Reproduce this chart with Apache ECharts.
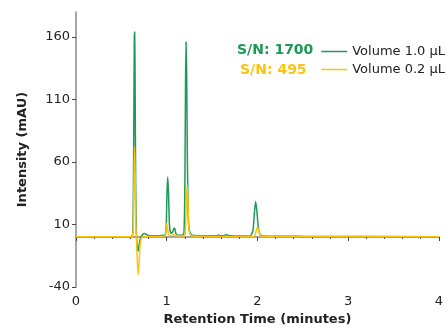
<!DOCTYPE html>
<html>
<head>
<meta charset="utf-8">
<script src="https://cdn.jsdelivr.net/npm/echarts@6/dist/echarts.min.js"></script>
<style>
  html, body { margin: 0; padding: 0; background: #fff; }
  #chart { width: 446px; height: 331px; }
</style>
</head>
<body>
<div id="chart"></div>
<script>
  // retention time (min), intensity (mAU)
  const vol10 = [
    [0, 0.3], [0.6, 0.3], [0.615, 0.5], [0.625, 3], [0.632, 30], [0.638, 100],
    [0.643, 160], [0.647, 164], [0.652, 120], [0.658, 40], [0.665, 5],
    [0.675, -8], [0.686, -11], [0.697, -6], [0.71, -1], [0.725, 1], [0.74, 2.5],
    [0.755, 2.8], [0.775, 2], [0.8, 1.2], [0.85, 1], [0.95, 1.2], [0.985, 2],
    [0.995, 10], [1.003, 35], [1.011, 48], [1.02, 35], [1.03, 10], [1.045, 3],
    [1.065, 4], [1.08, 7], [1.09, 6.5], [1.1, 3], [1.12, 1.5], [1.17, 1.5],
    [1.19, 3], [1.2, 40], [1.207, 120], [1.213, 156], [1.22, 130], [1.228, 60],
    [1.238, 15], [1.25, 5], [1.27, 2], [1.3, 1.2], [1.45, 1], [1.55, 1],
    [1.57, 1.6], [1.59, 1], [1.64, 1.2], [1.66, 2], [1.68, 1.2], [1.75, 0.8],
    [1.92, 0.8], [1.95, 5], [1.965, 18], [1.98, 28.5], [1.995, 20], [2.01, 7],
    [2.03, 2], [2.06, 0.8], [2.5, 0.5], [4, 0.3]
  ];
  const vol02 = [
    [0, 0.3], [0.6, 0.3], [0.62, 0.5], [0.63, 5], [0.638, 40], [0.645, 72],
    [0.652, 50], [0.658, 15], [0.665, 0], [0.675, -18], [0.685, -30],
    [0.695, -22], [0.705, -8], [0.72, -1], [0.74, 0.5], [0.8, 0.5], [0.95, 0.5],
    [0.985, 1.5], [0.995, 6], [1.0, 11], [1.008, 8], [1.02, 2], [1.05, 1],
    [1.085, 2], [1.1, 1.5], [1.12, 0.8], [1.19, 0.8], [1.205, 4], [1.215, 25],
    [1.225, 41.5], [1.233, 30], [1.242, 10], [1.255, 2.5], [1.28, 0.8],
    [1.6, 0.5], [1.96, 0.5], [1.98, 3], [2.0, 8], [2.02, 3.5], [2.04, 0.8],
    [2.1, 0.4], [4, 0.3]
  ];
  const yTicks = [-40, 10, 60, 110, 160];
  const seriesNames = ['Volume 1.0 µL', 'Volume 0.2 µL'];
  const snLabels = ['S/N: 1700', 'S/N: 495'];
  const green = '#1c9a57';
  const yellow = '#fdc30f';
  const font = 'DejaVu Sans, Verdana, sans-serif';

  const myChart = echarts.init(document.getElementById('chart'));

  const option = {
    animation: false,
    grid: { left: 76, right: 6, top: 12, bottom: 40 },
    legend: {
      orient: 'vertical',
      right: -4,
      top: 40,
      itemWidth: 26,
      itemHeight: 1.5,
      itemGap: 5,
      icon: 'rect',
      textStyle: { fontFamily: font, fontSize: 13, color: '#222' },
      data: seriesNames,
    },
    graphic: [
      {
        type: 'text', left: 237, top: 43,
        style: { text: snLabels[0], fill: green, font: 'bold 14px ' + font },
      },
      {
        type: 'text', left: 240, top: 63,
        style: { text: snLabels[1], fill: yellow, font: 'bold 14px ' + font },
      },
    ],
    xAxis: {
      type: 'value',
      min: 0,
      max: 4,
      interval: 1,
      name: 'Retention Time (minutes)',
      nameLocation: 'middle',
      nameGap: 26,
      nameTextStyle: { fontFamily: font, fontSize: 13, fontWeight: 'bold', color: '#222' },
      axisLine: { lineStyle: { color: '#888', width: 1.5 } },
      axisTick: { length: 4, lineStyle: { color: '#444' } },
      minorTick: { show: true, splitNumber: 5, length: 2, lineStyle: { color: '#444' } },
      axisLabel: { fontFamily: font, fontSize: 13, color: '#222', margin: 8 },
      splitLine: { show: false },
    },
    yAxis: {
      type: 'value',
      min: -40,
      max: 180,
      interval: 50,
      name: 'Intensity (mAU)',
      nameLocation: 'middle',
      nameGap: 47,
      nameTextStyle: { fontFamily: font, fontSize: 13, fontWeight: 'bold', color: '#222' },
      axisLine: { show: true, lineStyle: { color: '#888', width: 1.5 } },
      axisTick: { show: true, length: 4, customValues: yTicks, lineStyle: { color: '#444' } },
      axisLabel: { fontFamily: font, fontSize: 13, color: '#222', margin: 6, customValues: yTicks },
      splitLine: { show: false },
    },
    series: [
      {
        name: seriesNames[0],
        type: 'line',
        data: vol10,
        showSymbol: false,
        smooth: 0.2,
        lineStyle: { color: green, width: 1.5 },
        itemStyle: { color: green },
      },
      {
        name: seriesNames[1],
        type: 'line',
        data: vol02,
        showSymbol: false,
        smooth: 0.2,
        lineStyle: { color: yellow, width: 1.5 },
        itemStyle: { color: yellow },
      },
    ],
  };

  option && myChart.setOption(option);
</script>
</body>
</html>
